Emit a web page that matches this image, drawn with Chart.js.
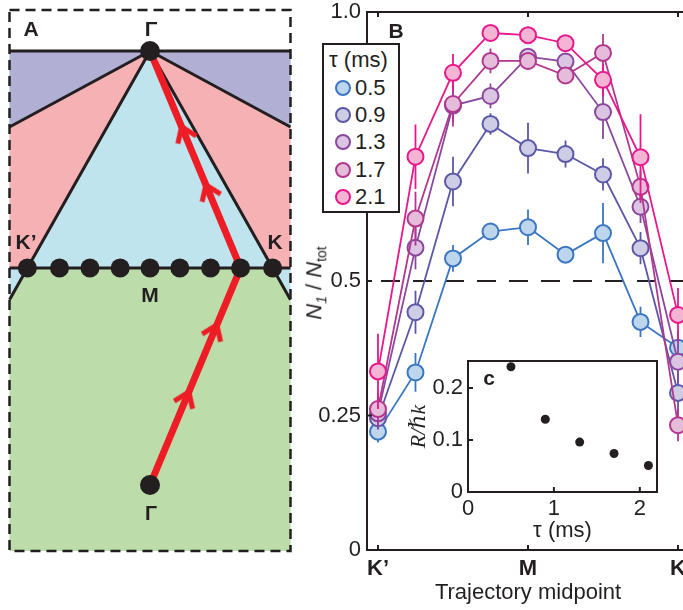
<!DOCTYPE html>
<html><head><meta charset="utf-8">
<script src="https://cdn.jsdelivr.net/npm/chart.js@4"></script>
<style>
html,body{margin:0;padding:0;background:#fff;width:683px;height:610px;overflow:hidden;position:relative;font-family:"Liberation Sans",Arial,sans-serif;color:#231f20}
canvas{position:absolute}
.lbl{position:absolute;transform:translate(-50%,-50%);white-space:nowrap;line-height:1}
.b{font-weight:bold}
#legend{position:absolute;left:322px;top:43px;width:78px;height:170px;box-sizing:border-box;border:2px solid #231f20;background:#fff}
#legend .row{position:absolute;left:0;height:22px;line-height:22px;font-size:22px}
#legend .dot{position:absolute;width:16px;height:16px;box-sizing:border-box;border:2px solid;border-radius:50%}
</style></head><body>
<canvas id="panelA" width="300" height="560" style="left:0;top:0"></canvas>
<canvas id="panelB" width="400" height="610" style="left:300px;top:0"></canvas>
<canvas id="panelC" width="270" height="200" style="left:400px;top:355px"></canvas>

<div class="lbl b" style="left:31px;top:28px;font-size:21px">A</div>
<div class="lbl b" style="left:151px;top:28px;font-size:21px">Γ</div>
<div class="lbl b" style="left:26px;top:241px;font-size:21px">K’</div>
<div class="lbl b" style="left:275px;top:241px;font-size:21px">K</div>
<div class="lbl b" style="left:150px;top:294px;font-size:21px">M</div>
<div class="lbl b" style="left:151px;top:513px;font-size:20px">Γ</div>

<div class="lbl b" style="left:396px;top:30px;font-size:21px">B</div>
<div class="lbl" style="left:316px;top:283px;font-size:22px;transform:translate(-50%,-50%) rotate(-90deg)"><i>N</i><sub style="font-size:14px"><i>1</i></sub> / <i>N</i><sub style="font-size:14px">tot</sub></div>
<div id="legend"></div>
<div class="lbl b" style="left:489px;top:377px;font-size:21px">c</div>

<script>
// ---------------- data ----------------
const midpointIndex = [0, 1, 2, 3, 4, 5, 6, 7, 8];
const xTickValues = [0, 4, 8];
const xTickLabels = ['K’', 'M', 'K'];
const yTickValues = [0, 0.25, 0.5, 1.0];
const yTickLabels = ['0', '0.25', '0.5', '1.0'];
const halfLevel = 0.5;
const tauLabels = ['0.5', '0.9', '1.3', '1.7', '2.1'];

const frac05 = [0.220, 0.330, 0.542, 0.592, 0.600, 0.549, 0.589, 0.424, 0.376];
const err05  = [0.020, 0.036, 0.025, 0.015, 0.033, 0.012, 0.056, 0.028, 0.030];
const frac09 = [0.245, 0.442, 0.685, 0.792, 0.747, 0.736, 0.698, 0.561, 0.292];
const err09  = [0.020, 0.040, 0.046, 0.020, 0.047, 0.025, 0.030, 0.030, 0.040];
const frac13 = [0.254, 0.562, 0.826, 0.844, 0.917, 0.908, 0.814, 0.638, 0.350];
const err13  = [0.030, 0.040, 0.030, 0.023, 0.010, 0.010, 0.050, 0.030, 0.040];
const frac17 = [0.262, 0.616, 0.829, 0.909, 0.909, 0.882, 0.924, 0.675, 0.232];
const err17  = [0.030, 0.050, 0.042, 0.023, 0.010, 0.010, 0.035, 0.030, 0.030];
const frac21 = [0.332, 0.731, 0.887, 0.961, 0.957, 0.942, 0.874, 0.730, 0.437];
const err21  = [0.070, 0.060, 0.035, 0.010, 0.010, 0.010, 0.030, 0.080, 0.050];

const insetTau = [0.5, 0.9, 1.3, 1.7, 2.1];
const insetR   = [0.241, 0.140, 0.096, 0.074, 0.051];
const insetXTicks = [0, 1, 2];
const insetYTicks = [0, 0.1, 0.2];
const insetYTickLabels = ['0', '0.1', '0.2'];

// Panel A schematic, reciprocal space (Γ–Γ spacing = 1, upper Γ at origin)
const boxX = [-0.3237, 0.3237];
const boxY = [0.0945, -1.152];
const kPointX = 0.2825;
const mLineY = -0.5;
const upperZoneY = -0.175;
const gammaY = [0, -1];
const trajMidX = [-0.2825, -0.2085, -0.1383, -0.0687, 0, 0.0687, 0.1395, 0.2087, 0.2825];
const chosenMid = 7;
const arrowFracLeg1 = [0.405, 0.714];
const arrowFracLeg2 = [0.359, 0.627];

// ---------------- styles ----------------
const INK = '#231f20';
const FONT = '"Liberation Sans", Arial, sans-serif';
const edgeColors = ['#3b76c1', '#5b58a7', '#8a479e', '#b2378e', '#e8178b'];
const fillColors = ['#bdd6ee', '#cfcde6', '#dcc5e2', '#e5bcd9', '#f4b5d5'];
const seriesY = [frac05, frac09, frac13, frac17, frac21];
const seriesE = [err05, err09, err13, err17, err21];

function noPad(s) { s.paddingTop = 0; s.paddingBottom = 0; s.paddingLeft = 0; s.paddingRight = 0; }

function framePlugin(id, opt) {
  return {
    id,
    beforeDraw(chart) {
      if (!opt.bg) return;
      const {ctx, chartArea: a} = chart;
      ctx.save(); ctx.fillStyle = opt.bg;
      ctx.fillRect(a.left, a.top, a.right - a.left, a.bottom - a.top);
      ctx.restore();
    },
    afterDraw(chart) {
      const {ctx, chartArea: a, scales: {x, y}} = chart;
      const L = opt.len;
      ctx.save();
      ctx.strokeStyle = INK; ctx.lineWidth = 2;
      ctx.beginPath();
      x.ticks.forEach(t => {
        const px = x.getPixelForValue(t.value);
        ctx.moveTo(px, a.bottom); ctx.lineTo(px, a.bottom - L);
        if (opt.top) { ctx.moveTo(px, a.top); ctx.lineTo(px, a.top + L); }
      });
      y.ticks.forEach(t => {
        const py = y.getPixelForValue(t.value);
        ctx.moveTo(a.left, py); ctx.lineTo(a.left + L, py);
      });
      ctx.stroke();
      ctx.strokeRect(a.left, a.top, a.right - a.left, a.bottom - a.top);
      ctx.restore();
    }
  };
}

// ---------------- Panel A ----------------
(function () {
  const xL = boxX[0], xR = boxX[1], yT = boxY[0], yB = boxY[1];
  const cornerY = mLineY * xR / kPointX;
  const P = arr => arr.map(p => ({x: p[0], y: p[1]}));
  const poly = (pts, color) => ({data: P(pts), showLine: true, fill: 'shape', backgroundColor: color,
    borderWidth: 0, pointRadius: 0});
  const segData = [];
  [[[xL, 0], [xR, 0]], [[0, 0], [xL, upperZoneY]], [[0, 0], [xR, upperZoneY]],
   [[0, 0], [xL, cornerY]], [[0, 0], [xR, cornerY]], [[xL, mLineY], [xR, mLineY]]]
    .forEach(s => { segData.push({x: s[0][0], y: s[0][1]}, {x: s[1][0], y: s[1][1]}, {x: null, y: null}); });

  const mid = {x: trajMidX[chosenMid], y: mLineY};
  const g0 = {x: 0, y: gammaY[1]}, g1 = {x: 0, y: gammaY[0]};
  const legs = [[g0, mid, arrowFracLeg1], [mid, g1, arrowFracLeg2]];
  const arrowPts = [], arrowRot = [];
  legs.forEach(([p, q, fr]) => {
    const dx = q.x - p.x, dy = q.y - p.y;
    fr.forEach(f => {
      arrowPts.push({x: p.x + f * dx, y: p.y + f * dy});
      arrowRot.push(Math.atan2(dx, dy) * 180 / Math.PI);
    });
  });
  const chev = document.createElement('canvas');
  chev.width = 26; chev.height = 22;
  const g = chev.getContext('2d');
  g.fillStyle = '#ee1c25'; g.beginPath();
  g.moveTo(13, 1); g.lineTo(25, 18); g.lineTo(21, 21); g.lineTo(13, 10); g.lineTo(5, 21); g.lineTo(1, 18);
  g.closePath(); g.fill();

  const ds = [
    poly([[xL, 0], [xR, 0], [xR, yB], [xL, yB]], '#c0e4ed'),
    poly([[xL, 0], [0, 0], [xL, upperZoneY]], '#b2afd5'),
    poly([[xR, 0], [0, 0], [xR, upperZoneY]], '#b2afd5'),
    poly([[0, 0], [xL, upperZoneY], [xL, mLineY], [-kPointX, mLineY]], '#f6b1b4'),
    poly([[0, 0], [xR, upperZoneY], [xR, mLineY], [kPointX, mLineY]], '#f6b1b4'),
    poly([[-kPointX, mLineY], [kPointX, mLineY], [xR, cornerY], [xR, yB], [xL, yB], [xL, cornerY]], '#bcdcaa'),
    {data: segData, showLine: true, spanGaps: false, borderColor: INK, borderWidth: 3, pointRadius: 0},
    {data: P([[xL, yT], [xR, yT], [xR, yB], [xL, yB], [xL, yT]]), showLine: true, borderColor: INK,
      borderWidth: 2.5, borderDash: [10, 6], pointRadius: 0},
    {data: [g0, mid, g1], showLine: true, borderColor: '#ee1c25', borderWidth: 7, pointRadius: 0,
      borderJoinStyle: 'miter'},
    {data: arrowPts, showLine: false, pointStyle: chev, rotation: arrowRot, pointRadius: 11},
    {data: trajMidX.map(x => ({x, y: mLineY})), showLine: false, pointRadius: 9.5,
      pointBackgroundColor: INK, pointBorderWidth: 0},
    {data: gammaY.map(y => ({x: 0, y})), showLine: false, pointRadius: 10,
      pointBackgroundColor: INK, pointBorderWidth: 0}
  ];
  ds.forEach((d, i) => { d.order = 100 - i; d.clip = false; });
  new Chart(document.getElementById('panelA'), {
    type: 'scatter',
    data: {datasets: ds},
    options: {
      responsive: false, animation: false, events: [],
      layout: {padding: 0, autoPadding: false},
      plugins: {legend: {display: false}, tooltip: {enabled: false}},
      scales: {
        x: {type: 'linear', display: false, min: -0.3456, max: 0.3456},
        y: {type: 'linear', display: false, min: -1.1728, max: 0.1175}
      }
    }
  });
})();

// ---------------- Panel B ----------------
(function () {
  const ds = [];
  seriesY.forEach((ys, i) => {
    const errData = [];
    midpointIndex.forEach((xv, j) => {
      errData.push({x: xv, y: ys[j] - seriesE[i][j]}, {x: xv, y: ys[j] + seriesE[i][j]}, {x: xv, y: null});
    });
    ds.push({data: errData, borderColor: edgeColors[i], borderWidth: 1.8, pointRadius: 0,
      spanGaps: false, fill: false, order: 20 - 2 * i});
    ds.push({label: tauLabels[i], data: midpointIndex.map((xv, j) => ({x: xv, y: ys[j]})),
      borderColor: edgeColors[i], backgroundColor: fillColors[i],
      pointBackgroundColor: fillColors[i], pointBorderColor: edgeColors[i],
      pointRadius: 8, pointBorderWidth: 2, borderWidth: 1.8, fill: false, order: 19 - 2 * i});
  });
  const refLine = {
    id: 'refLine',
    beforeDatasetsDraw(chart) {
      const {ctx, chartArea: a, scales: {y}} = chart;
      const py = y.getPixelForValue(halfLevel);
      ctx.save(); ctx.setLineDash([19, 13]); ctx.lineDashOffset = -14;
      ctx.strokeStyle = INK; ctx.lineWidth = 2;
      ctx.beginPath(); ctx.moveTo(a.left, py); ctx.lineTo(a.right, py); ctx.stroke();
      ctx.restore();
    }
  };
  new Chart(document.getElementById('panelB'), {
    type: 'line',
    data: {datasets: ds},
    options: {
      responsive: false, animation: false, events: [],
      layout: {padding: {top: 12, right: 11, left: 0, bottom: 0}, autoPadding: false},
      plugins: {legend: {display: false}, tooltip: {enabled: false}},
      scales: {
        x: {
          type: 'linear', min: -0.293, max: 8.293,
          afterBuildTicks: s => { s.ticks = xTickValues.map(v => ({value: v})); },
          afterFit: s => { s.height = 60; noPad(s); },
          grid: {display: false, drawTicks: false}, border: {display: false},
          ticks: {autoSkip: false, maxRotation: 0, padding: 6, color: INK,
            font: {family: FONT, size: 22, weight: 'bold'},
            callback: v => xTickLabels[xTickValues.indexOf(v)]},
          title: {display: true, text: 'Trajectory midpoint', color: INK,
            font: {family: FONT, size: 22}, padding: {top: 0, bottom: 4}}
        },
        y: {
          type: 'linear', min: 0, max: 1,
          afterBuildTicks: s => { s.ticks = yTickValues.map(v => ({value: v})); },
          afterFit: s => { s.width = 67; noPad(s); },
          grid: {display: false, drawTicks: false}, border: {display: false},
          ticks: {padding: 6, color: INK, font: {family: FONT, size: 22},
            callback: v => yTickLabels[yTickValues.indexOf(v)]}
        }
      }
    },
    plugins: [refLine, framePlugin('frameB', {len: 5, top: true})]
  });

  // legend
  const lg = document.getElementById('legend');
  const t = document.createElement('div');
  t.className = 'row'; t.style.top = '4px'; t.style.left = '5px'; t.textContent = 'τ (ms)';
  lg.appendChild(t);
  tauLabels.forEach((lab, i) => {
    const cy = 43 + i * 27.2;
    const d = document.createElement('span');
    d.className = 'dot';
    d.style.left = (19 - 8) + 'px'; d.style.top = (cy - 8) + 'px';
    d.style.borderColor = edgeColors[i]; d.style.background = fillColors[i];
    lg.appendChild(d);
    const r = document.createElement('div');
    r.className = 'row'; r.style.left = '31px'; r.style.top = (cy - 11) + 'px';
    r.textContent = lab;
    lg.appendChild(r);
  });
})();

// ---------------- Inset c ----------------
(function () {
  new Chart(document.getElementById('panelC'), {
    type: 'scatter',
    data: {datasets: [{data: insetTau.map((t, i) => ({x: t, y: insetR[i]})),
      pointRadius: 4.5, pointBackgroundColor: INK, pointBorderWidth: 0}]},
    options: {
      responsive: false, animation: false, events: [],
      layout: {padding: {top: 6, right: 13, left: 0, bottom: 0}, autoPadding: false},
      plugins: {legend: {display: false}, tooltip: {enabled: false}},
      scales: {
        x: {
          type: 'linear', min: 0, max: 2.2,
          afterBuildTicks: s => { s.ticks = insetXTicks.map(v => ({value: v})); },
          afterFit: s => { s.height = 63; noPad(s); },
          grid: {display: false, drawTicks: false}, border: {display: false},
          ticks: {padding: 4, color: INK, font: {family: FONT, size: 22}, callback: v => String(v)},
          title: {display: true, text: 'τ (ms)', color: INK, font: {family: FONT, size: 22},
            padding: {top: 0, bottom: 11}}
        },
        y: {
          type: 'linear', min: 0, max: 0.252,
          afterBuildTicks: s => { s.ticks = insetYTicks.map(v => ({value: v})); },
          afterFit: s => { s.width = 68; noPad(s); },
          grid: {display: false, drawTicks: false}, border: {display: false},
          ticks: {padding: 5, color: INK, font: {family: FONT, size: 22},
            callback: v => insetYTickLabels[insetYTicks.indexOf(v)]},
          title: {display: true, text: 'R/ℏk', color: INK,
            font: {family: '"Liberation Serif", "DejaVu Serif", serif', size: 22, style: 'italic'},
            padding: {top: 6, bottom: 0}}
        }
      }
    },
    plugins: [framePlugin('frameC', {len: 5, top: false, bg: '#ffffff'})]
  });
})();
</script>
</body></html>
